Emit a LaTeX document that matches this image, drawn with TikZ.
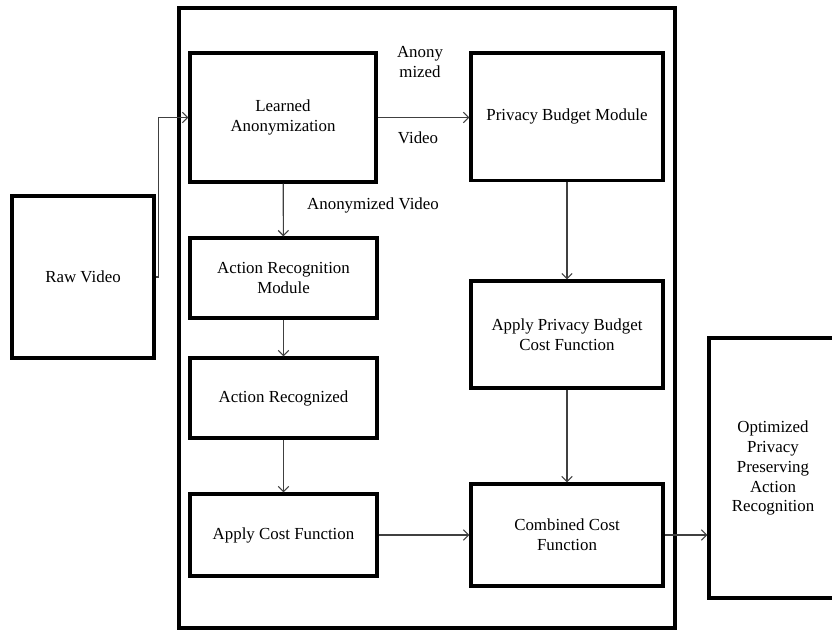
\documentclass[tikz,border=0pt]{standalone}
\usepackage{fontspec}
\setmainfont{Liberation Serif}
\usepackage{tikz}
\usetikzlibrary{arrows.meta,positioning}

\begin{document}
\begin{tikzpicture}[
  x=0.025cm, y=-0.025cm,
  font=\fontsize{12}{14.2}\selectfont,
  block/.style={draw, line width=2.3pt, align=center, inner sep=2pt},
  frame/.style={draw, line width=2.3pt, minimum width=12.4cm, minimum height=15.5cm},
  arr/.style={-{Straight Barb[length=1.3mm,width=2.6mm]}, line width=0.8pt, draw=black!75},
  lbl/.style={align=center}
]
\useasboundingbox (0,0) rectangle (832,632);
\begin{scope}
\clip (0,0) rectangle (832,632);
\node[frame] (main) at (427,318) {};
\node[block, minimum width=3.55cm, minimum height=4.05cm] (raw) at (83,277) {Raw Video};
\node[block, minimum width=4.65cm, minimum height=3.22cm] (learned) at (283,117.5) {Learned\\Anonymization};
\node[block, minimum width=4.8cm, minimum height=3.18cm] (budget) at (567,116.5) {Privacy Budget Module};
\node[block, minimum width=4.67cm, minimum height=2cm] (recmod) at (283.5,278) {Action Recognition\\Module};
\node[block, minimum width=4.67cm, minimum height=2cm] (recog) at (283.5,398) {Action Recognized};
\node[block, minimum width=4.67cm, minimum height=2.05cm] (cost) at (283.5,535) {Apply Cost Function};
\node[block, minimum width=4.8cm, minimum height=2.67cm] (budgetcost) at (567,334.5) {Apply Privacy Budget\\Cost Function};
\node[block, minimum width=4.8cm, minimum height=2.55cm] (combined) at (567,535) {Combined Cost\\Function};
\node[block, minimum width=3.2cm, minimum height=6.5cm] (optim) at (773,468) {Optimized\\Privacy\\Preserving\\Action\\Recognition};
\end{scope}

% connectors
\draw[arr] (raw.east) -- ++(3,0) |- (learned.west);
\draw[arr] (learned.east) -- (learned.east -| budget.west);
\node[lbl] (anonlbl) at (420,62) {Anony\\mized};
\node[lbl] (videolbl) at (418,138) {Video};
\draw[arr] (learned) -- (recmod);
\node[lbl] (anonvid) at (373,205) {Anonymized Video};
\draw[arr] (recmod) -- (recog);
\draw[arr] (recog) -- (cost);
\draw[arr] (cost) -- (combined);
\draw[arr] (budget) -- (budgetcost);
\draw[arr] (budgetcost) -- (combined);
\draw[arr] (combined.east) -- (combined.east -| optim.west);
\end{tikzpicture}
\end{document}
